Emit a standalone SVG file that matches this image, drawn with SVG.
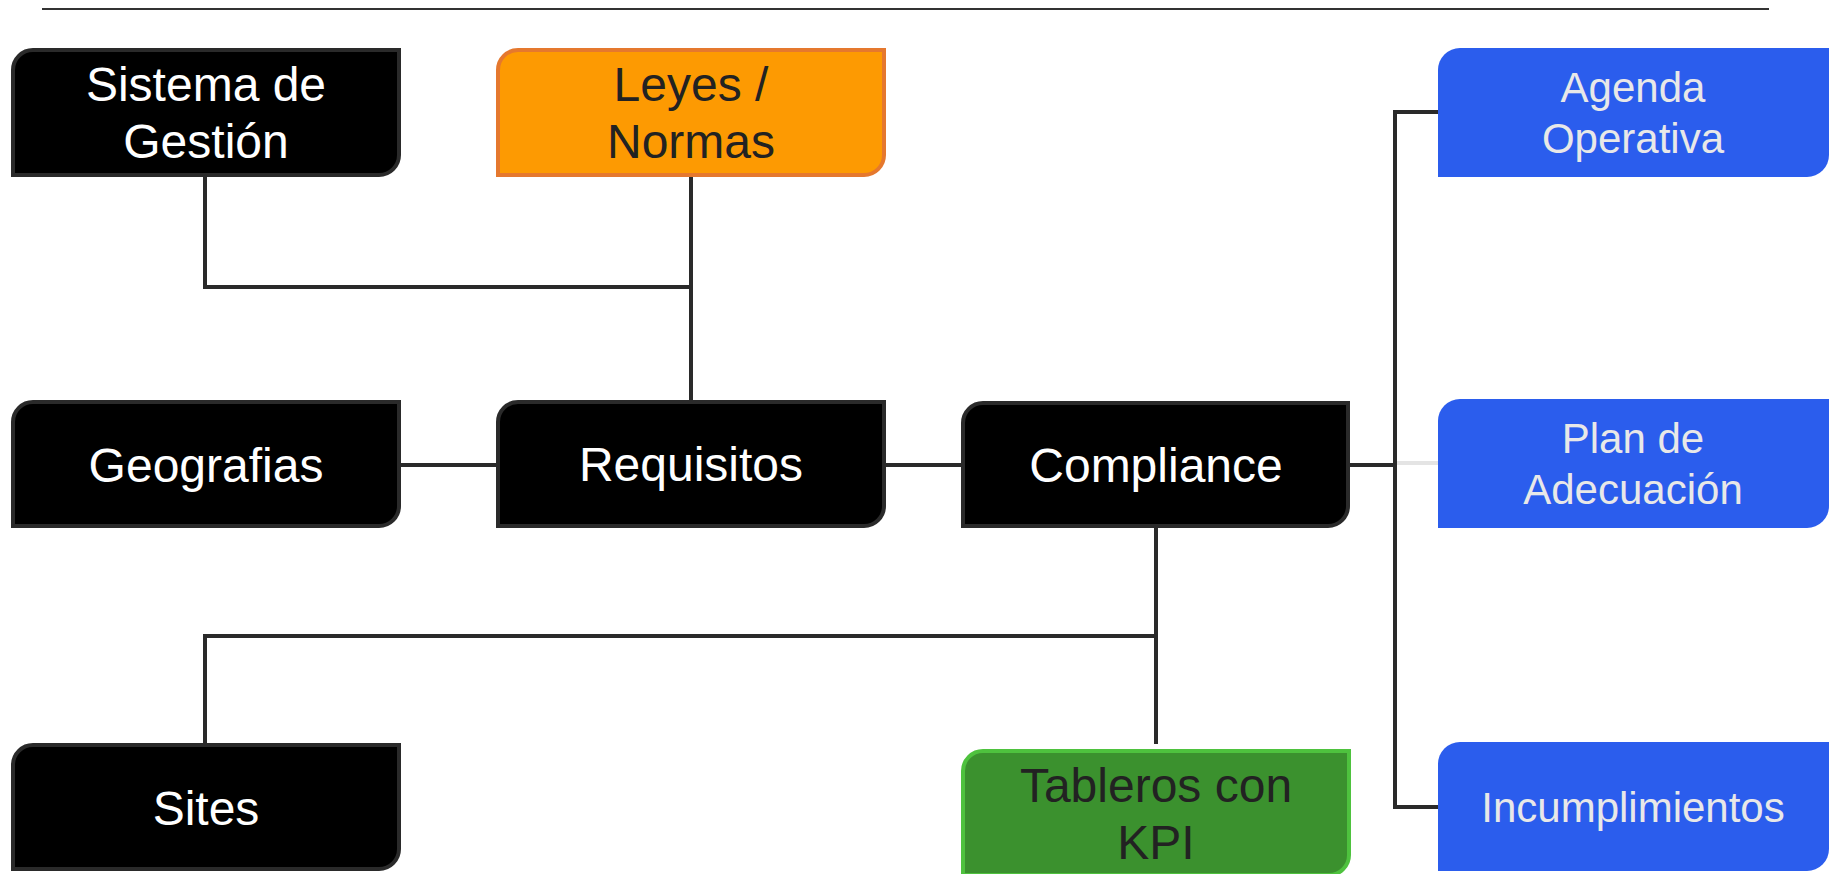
<svg xmlns="http://www.w3.org/2000/svg" width="1835" height="874" viewBox="0 0 1835 874">
<style>
.dark{fill:#000;stroke:#2a2a2a;stroke-width:4}
.orange{fill:#fd9a02;stroke:#e5782e;stroke-width:4}
.green{fill:#3b912e;stroke:#4ec23e;stroke-width:4}
.blue{fill:#2b5ded}
.t{font-family:"Liberation Sans",Arial,sans-serif;text-anchor:middle}
.tw{fill:#ffffff;font-size:48px}
.tk{fill:#222222;font-size:48px}
.tb{fill:#e8e8e8;font-size:42px}
.c{fill:none;stroke:#2a2a2a;stroke-width:4}
</style>
<rect width="1835" height="874" fill="#ffffff"/>
<line x1="42" y1="9" x2="1769" y2="9" stroke="#333" stroke-width="2"/>
<g id="connectors">
<polyline class="c" points="205,177 205,287 691,287"/>
<line class="c" x1="691" y1="177" x2="691" y2="402"/>
<line class="c" x1="401" y1="465" x2="498" y2="465"/>
<line class="c" x1="871" y1="465" x2="963" y2="465"/>
<line class="c" x1="1349" y1="465" x2="1395" y2="465"/>
<line x1="1395" y1="463" x2="1438" y2="463" stroke="#e4e4e4" stroke-width="4"/>
<polyline class="c" points="1438,112 1395,112 1395,807 1438,807"/>
<line class="c" x1="1156" y1="528" x2="1156" y2="744"/>
<polyline class="c" points="1156,636 205,636 205,745"/>
</g>
<g id="sistema">
<path class="dark" d="M13,70 A20,20 0 0 1 33,50 H399 V155 A20,20 0 0 1 379,175 H13 Z"/>
<text class="t tw" x="206" y="101">Sistema de</text>
<text class="t tw" x="206" y="158">Gestión</text>
</g>
<g id="leyes">
<path class="orange" d="M498,70 A20,20 0 0 1 518,50 H884 V155 A20,20 0 0 1 864,175 H498 Z"/>
<text class="t tk" x="691" y="101">Leyes /</text>
<text class="t tk" x="691" y="158">Normas</text>
</g>
<g id="geografias">
<path class="dark" d="M13,422 A20,20 0 0 1 33,402 H399 V506 A20,20 0 0 1 379,526 H13 Z"/>
<text class="t tw" x="206" y="482">Geografias</text>
</g>
<g id="requisitos">
<path class="dark" d="M498,422 A20,20 0 0 1 518,402 H884 V506 A20,20 0 0 1 864,526 H498 Z"/>
<text class="t tw" x="691" y="481">Requisitos</text>
</g>
<g id="compliance">
<path class="dark" d="M963,423 A20,20 0 0 1 983,403 H1348 V506 A20,20 0 0 1 1328,526 H963 Z"/>
<text class="t tw" x="1156" y="482">Compliance</text>
</g>
<g id="sites">
<path class="dark" d="M13,765 A20,20 0 0 1 33,745 H399 V849 A20,20 0 0 1 379,869 H13 Z"/>
<text class="t tw" x="206" y="825">Sites</text>
</g>
<g id="tableros">
<path class="green" d="M963,771 A20,20 0 0 1 983,751 H1349 V855 A20,20 0 0 1 1329,875 H963 Z"/>
<text class="t tk" x="1156" y="802">Tableros con</text>
<text class="t tk" x="1156" y="859">KPI</text>
</g>
<g id="agenda">
<path class="blue" d="M1438,70 A22,22 0 0 1 1460,48 H1829 V155 A22,22 0 0 1 1807,177 H1438 Z"/>
<text class="t tb" x="1633" y="102">Agenda</text>
<text class="t tb" x="1633" y="153">Operativa</text>
</g>
<g id="plan">
<path class="blue" d="M1438,421 A22,22 0 0 1 1460,399 H1829 V506 A22,22 0 0 1 1807,528 H1438 Z"/>
<text class="t tb" x="1633" y="453">Plan de</text>
<text class="t tb" x="1633" y="504">Adecuación</text>
</g>
<g id="incumplimientos">
<path class="blue" d="M1438,764 A22,22 0 0 1 1460,742 H1829 V849 A22,22 0 0 1 1807,871 H1438 Z"/>
<text class="t tb" x="1633" y="822">Incumplimientos</text>
</g>
</svg>
